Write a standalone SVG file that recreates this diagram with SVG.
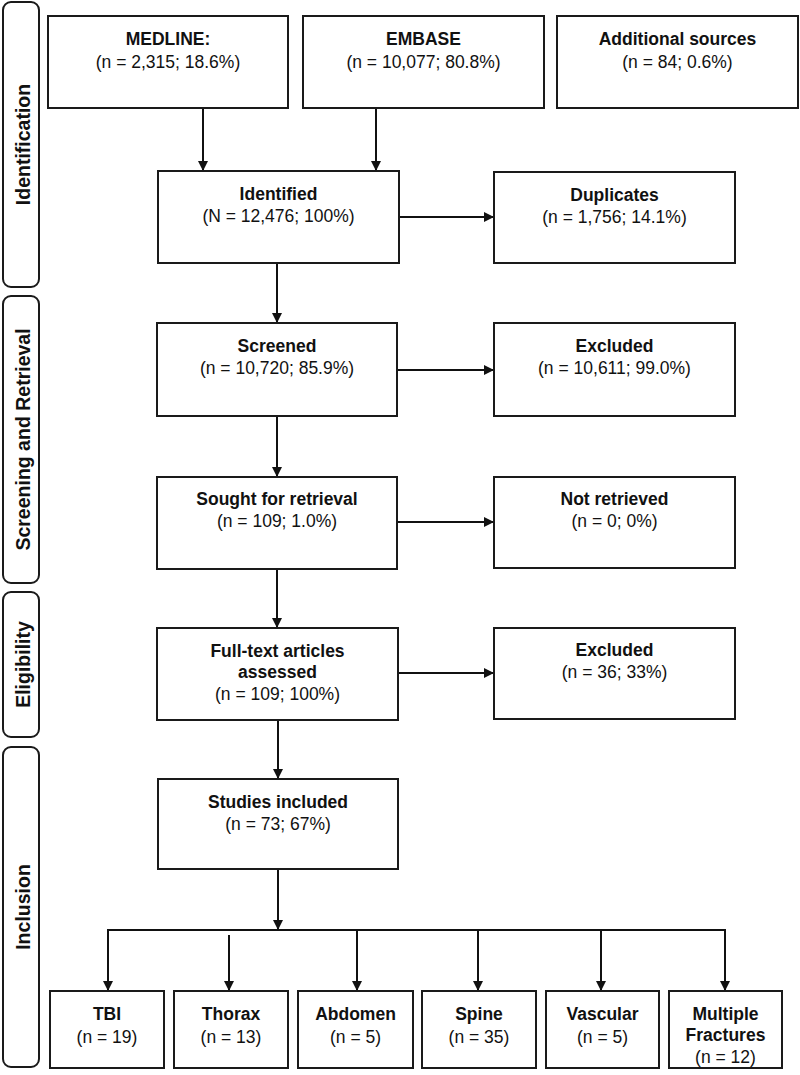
<svg xmlns="http://www.w3.org/2000/svg" width="800" height="1075" viewBox="0 0 800 1075">
<style>
.box{fill:#fff;stroke:#1a1a1a;stroke-width:2}
.panel{fill:#fff;stroke:#1a1a1a;stroke-width:2}
.t{font-family:"Liberation Sans",Arial,sans-serif;font-size:17.5px;fill:#111;text-anchor:middle}
.b{font-weight:bold}
.side{font-family:"Liberation Sans",Arial,sans-serif;font-size:19.5px;font-weight:bold;fill:#111;text-anchor:middle}
.c{fill:none;stroke:#111;stroke-width:2}
</style>
<defs>
<marker id="ah" viewBox="0 0 10 10" refX="10" refY="5" markerWidth="5" markerHeight="5" orient="auto" markerUnits="strokeWidth">
<path d="M0,0 L10,5 L0,10 z" fill="#111"/>
</marker>
</defs>
<rect width="800" height="1075" fill="#fff"/>
<g id="phases">
<g id="phase-identification"><rect class="panel" x="3" y="2" width="36" height="285" rx="8"/><text class="side" transform="translate(29.5,144.5) rotate(-90)">Identification</text></g>
<g id="phase-screening"><rect class="panel" x="3" y="296" width="36" height="287" rx="8"/><text class="side" transform="translate(29.5,439.5) rotate(-90)">Screening and Retrieval</text></g>
<g id="phase-eligibility"><rect class="panel" x="3" y="592" width="36" height="145" rx="8"/><text class="side" transform="translate(29.5,664.5) rotate(-90)">Eligibility</text></g>
<g id="phase-inclusion"><rect class="panel" x="3" y="747" width="36" height="320" rx="8"/><text class="side" transform="translate(29.5,907) rotate(-90)">Inclusion</text></g>
</g>
<g id="connectors">
<line class="c" x1="203" y1="108" x2="203" y2="171" marker-end="url(#ah)"/>
<line class="c" x1="376" y1="108" x2="376" y2="171" marker-end="url(#ah)"/>
<line class="c" x1="399" y1="217" x2="494" y2="217" marker-end="url(#ah)"/>
<line class="c" x1="277" y1="263" x2="277" y2="323" marker-end="url(#ah)"/>
<line class="c" x1="397" y1="370" x2="494" y2="370" marker-end="url(#ah)"/>
<line class="c" x1="277" y1="416" x2="277" y2="477" marker-end="url(#ah)"/>
<line class="c" x1="397" y1="522" x2="494" y2="522" marker-end="url(#ah)"/>
<line class="c" x1="277" y1="569" x2="277" y2="628" marker-end="url(#ah)"/>
<line class="c" x1="398" y1="673" x2="494" y2="673" marker-end="url(#ah)"/>
<line class="c" x1="278" y1="720" x2="278" y2="779" marker-end="url(#ah)"/>
<line class="c" x1="278" y1="869" x2="278" y2="930" marker-end="url(#ah)"/>
<polyline class="c" points="108,980 108,930 725,930 725,980"/>
<line class="c" x1="108" y1="940" x2="108" y2="991" marker-end="url(#ah)"/>
<line class="c" x1="725" y1="940" x2="725" y2="991" marker-end="url(#ah)"/>
<line class="c" x1="229" y1="935" x2="229" y2="991" marker-end="url(#ah)"/>
<line class="c" x1="357" y1="930" x2="357" y2="991" marker-end="url(#ah)"/>
<line class="c" x1="478" y1="930" x2="478" y2="991" marker-end="url(#ah)"/>
<line class="c" x1="601" y1="930" x2="601" y2="991" marker-end="url(#ah)"/>
</g>
<g id="medline"><rect class="box" x="48" y="16" width="240" height="92"/><text class="t b" x="168" y="45">MEDLINE:</text><text class="t" x="168" y="68">(n = 2,315; 18.6%)</text></g>
<g id="embase"><rect class="box" x="303" y="16" width="241" height="92"/><text class="t b" x="423.5" y="45">EMBASE</text><text class="t" x="423.5" y="68">(n = 10,077; 80.8%)</text></g>
<g id="additional"><rect class="box" x="557" y="16" width="241" height="92"/><text class="t b" x="677.5" y="45">Additional sources</text><text class="t" x="677.5" y="68">(n = 84; 0.6%)</text></g>
<g id="identified"><rect class="box" x="158" y="171" width="241" height="92"/><text class="t b" x="278.5" y="200">Identified</text><text class="t" x="278.5" y="222">(N = 12,476; 100%)</text></g>
<g id="duplicates"><rect class="box" x="494" y="172" width="241" height="91"/><text class="t b" x="614.5" y="201">Duplicates</text><text class="t" x="614.5" y="223">(n = 1,756; 14.1%)</text></g>
<g id="screened"><rect class="box" x="157" y="323" width="240" height="93"/><text class="t b" x="277" y="352">Screened</text><text class="t" x="277" y="374">(n = 10,720; 85.9%)</text></g>
<g id="excluded1"><rect class="box" x="494" y="323" width="241" height="93"/><text class="t b" x="614.5" y="352">Excluded</text><text class="t" x="614.5" y="374">(n = 10,611; 99.0%)</text></g>
<g id="sought"><rect class="box" x="157" y="477" width="240" height="92"/><text class="t b" x="277" y="505">Sought for retrieval</text><text class="t" x="277" y="527">(n = 109; 1.0%)</text></g>
<g id="notretrieved"><rect class="box" x="494" y="477" width="241" height="91"/><text class="t b" x="614.5" y="505">Not retrieved</text><text class="t" x="614.5" y="527">(n = 0; 0%)</text></g>
<g id="fulltext"><rect class="box" x="157" y="628" width="241" height="92"/><text class="t b" x="277.5" y="657">Full-text articles</text><text class="t b" x="277.5" y="678">assessed</text><text class="t" x="277.5" y="700">(n = 109; 100%)</text></g>
<g id="excluded2"><rect class="box" x="494" y="628" width="241" height="91"/><text class="t b" x="614.5" y="656">Excluded</text><text class="t" x="614.5" y="678">(n = 36; 33%)</text></g>
<g id="included"><rect class="box" x="158" y="779" width="240" height="90"/><text class="t b" x="278" y="808">Studies included</text><text class="t" x="278" y="830">(n = 73; 67%)</text></g>
<g id="tbi"><rect class="box" x="50" y="991" width="114" height="77"/><text class="t b" x="107" y="1020">TBI</text><text class="t" x="107" y="1043">(n = 19)</text></g>
<g id="thorax"><rect class="box" x="174" y="991" width="114" height="77"/><text class="t b" x="231" y="1020">Thorax</text><text class="t" x="231" y="1043">(n = 13)</text></g>
<g id="abdomen"><rect class="box" x="298" y="991" width="115" height="77"/><text class="t b" x="355.5" y="1020">Abdomen</text><text class="t" x="355.5" y="1043">(n = 5)</text></g>
<g id="spine"><rect class="box" x="422" y="991" width="114" height="77"/><text class="t b" x="479" y="1020">Spine</text><text class="t" x="479" y="1043">(n = 35)</text></g>
<g id="vascular"><rect class="box" x="546" y="991" width="113" height="77"/><text class="t b" x="602.5" y="1020">Vascular</text><text class="t" x="602.5" y="1043">(n = 5)</text></g>
<g id="multiple"><rect class="box" x="669" y="991" width="113" height="77"/><text class="t b" x="725.5" y="1020">Multiple</text><text class="t b" x="725.5" y="1041">Fractures</text><text class="t" x="725.5" y="1063">(n = 12)</text></g>
</svg>
